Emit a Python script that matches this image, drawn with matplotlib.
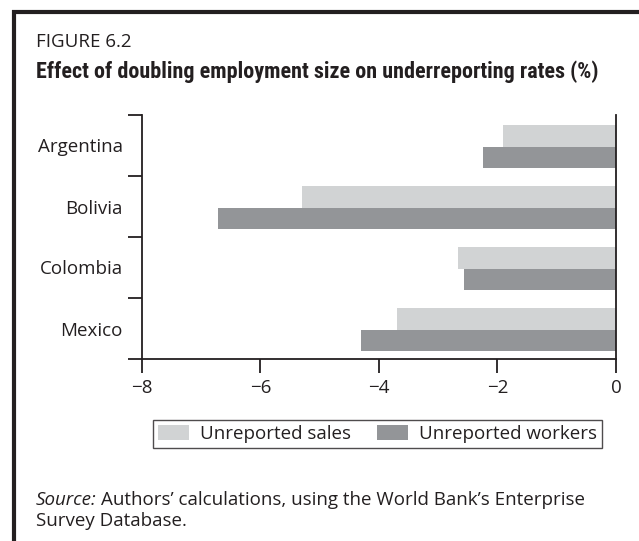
import numpy as np
import matplotlib.pyplot as plt
from matplotlib import font_manager
from matplotlib.lines import Line2D

# data
countries = ["Argentina", "Bolivia", "Colombia", "Mexico"]
unreported_sales = [-1.90, -5.30, -2.66, -3.69]
unreported_workers = [-2.24, -6.72, -2.56, -4.30]
x_ticks = [-8, -6, -4, -2, 0]

LIGHT = "#d1d3d4"
DARK = "#939598"
INK = "#231f20"
FS = 13.5

plt.rcParams["font.family"] = ["Open Sans", "DejaVu Sans"]

# a condensed bold face for the heading, if one is installed
names = {f.name for f in font_manager.fontManager.ttflist}
title_kw = dict(family="Open Sans", fontsize=11.2)
for cand in ("Liberation Sans Narrow", "Roboto Condensed", "DejaVu Sans Condensed",
             "Open Sans Condensed"):
    if cand in names:
        title_kw = dict(family=cand, fontsize=15.95)
        break

W, H = 639, 541
fig = plt.figure(figsize=(W / 100, H / 100), dpi=100)

ax = fig.add_axes([141.7 / W, 1 - 359 / H, (616 - 141.7) / W, (359 - 115) / H])

y = np.arange(len(countries))
bh = 0.355
shift = 0.022
ax.barh(y + shift - bh / 2, unreported_sales, height=bh, color=LIGHT,
        label="Unreported sales")
ax.barh(y + shift + bh / 2, unreported_workers, height=bh, color=DARK,
        label="Unreported workers")

ax.set_xlim(-8, 0)
ax.set_ylim(len(countries) - 0.5, -0.5)

# ticks at category boundaries, labels at centres
ax.set_yticks(np.arange(-0.5, len(countries), 1.0))
ax.set_yticklabels([])
ax.set_yticks(y, minor=True)
ax.set_yticklabels(countries, minor=True, fontsize=FS, color=INK)
ax.tick_params(axis="y", which="major", direction="out", length=10, width=1.3, color=INK)
ax.tick_params(axis="y", which="minor", length=0, pad=13.5)

ax.set_xticks(x_ticks)
ax.set_xticklabels(["\u22128", "\u22126", "\u22124", "\u22122", "0"])
ax.tick_params(axis="x", direction="out", length=10, width=1.3, color=INK,
               labelsize=FS, labelcolor=INK, pad=4.5)

ax.spines["top"].set_visible(False)
for s in ("left", "right", "bottom"):
    ax.spines[s].set_color(INK)
    ax.spines[s].set_linewidth(1.3)

leg = fig.legend(loc="center", bbox_to_anchor=(377.5 / W, 1 - 434 / H), ncol=2,
                 fontsize=FS, frameon=True, fancybox=False, edgecolor=INK,
                 handlelength=1.65, handleheight=0.8, handletextpad=0.6,
                 columnspacing=1.35, borderpad=0.28, labelcolor=INK)
leg.get_frame().set_linewidth(1.0)

# page frame: thick top and left rules
fig.add_artist(Line2D([12 / W, 1], [1 - 12 / H, 1 - 12 / H], color=INK, lw=3,
                      transform=fig.transFigure, solid_capstyle="butt"))
fig.add_artist(Line2D([14 / W, 14 / W], [1 - 10 / H, 0], color=INK, lw=3,
                      transform=fig.transFigure, solid_capstyle="butt"))

fig.text(36 / W, 1 - 47.3 / H, "FIGURE 6.2", fontsize=FS, color=INK, va="baseline")
fig.text(36 / W, 1 - 78.3 / H, "Effect of doubling employment size on underreporting rates (%)",
         fontweight="bold", color=INK, va="baseline", **title_kw)

src = fig.text(36 / W, 1 - 505 / H, "Source:", fontsize=FS, style="italic",
               color=INK, va="baseline")
fig.canvas.draw()
bb = src.get_window_extent()
fig.text((bb.x1 + 4) / W, 1 - 505 / H,
         "Authors\u2019 calculations, using the World Bank\u2019s Enterprise",
         fontsize=FS, color=INK, va="baseline")
fig.text(36 / W, 1 - 526 / H, "Survey Database.", fontsize=FS, color=INK, va="baseline")

fig.savefig("out.png", dpi=100)
